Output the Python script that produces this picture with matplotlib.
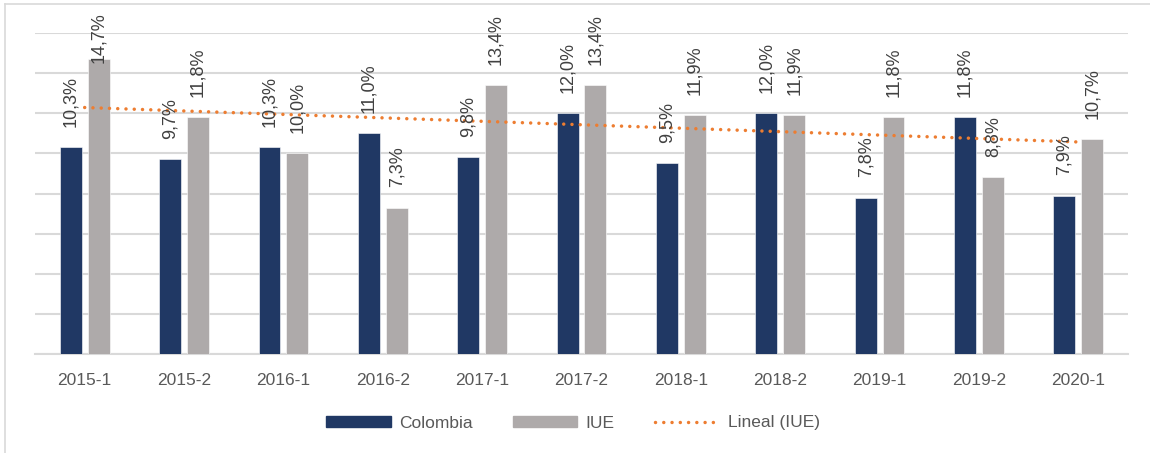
import numpy as np
import matplotlib
matplotlib.use("Agg")
import matplotlib.pyplot as plt
from matplotlib.lines import Line2D

categories = ["2015-1", "2015-2", "2016-1", "2016-2", "2017-1", "2017-2",
              "2018-1", "2018-2", "2019-1", "2019-2", "2020-1"]
colombia = [10.3, 9.7, 10.3, 11.0, 9.8, 12.0, 9.5, 12.0, 7.8, 11.8, 7.9]
iue = [14.7, 11.8, 10.0, 7.3, 13.4, 13.4, 11.9, 11.9, 11.8, 8.8, 10.7]

C_COL = "#203864"
C_IUE = "#aeaaaa"
C_TREND = "#ed7d31"
C_GRID = "#d9d9d9"

plt.rcParams['font.family'] = ['Liberation Sans', 'DejaVu Sans']

fig = plt.figure(figsize=(11.5, 4.53), dpi=100)
ax = fig.add_axes([35/1150, 99/453, (1128-35)/1150, (354-33)/453])

x = np.arange(len(categories))
w = 0.22
off = 0.14
ax.bar(x - off, colombia, w, color=C_COL, edgecolor="white", linewidth=0.4, zorder=3, label="Colombia")
ax.bar(x + off, iue, w, color=C_IUE, edgecolor="white", linewidth=0.4, zorder=3, label="IUE")

# linear trend of IUE
coef = np.polyfit(x, iue, 1)
trend = np.polyval(coef, x)
dot_style = (0, (0.01, 2.37))
ax.plot(x, trend, color=C_TREND, linewidth=2.5, linestyle=dot_style,
        dash_capstyle='round', zorder=4)

ax.set_xlim(-0.5, len(categories) - 0.5)
ax.set_ylim(0, 16)
ax.set_yticks(np.arange(0, 17, 2))
ax.yaxis.grid(True, color=C_GRID, linewidth=1.5, zorder=0)
ax.set_axisbelow(True)
ax.tick_params(axis='y', left=False, labelleft=False)
ax.tick_params(axis='x', bottom=False, pad=10, labelsize=12.5, labelcolor="#595959")
ax.set_xticks(x)
ax.set_xticklabels(categories)
for s in ['top', 'right', 'left']:
    ax.spines[s].set_visible(False)
ax.spines['bottom'].set_color(C_GRID)
ax.spines['bottom'].set_linewidth(1.5)

def fmt(v):
    return f"{v:.1f}".replace(".", ",") + "%"

top_limit = 17.05
lab_len = 2.55
for xi, vc, vi in zip(x, colombia, iue):
    for xp, v in ((xi - off, vc), (xi + off, vi)):
        yl = min(v + 1.0, top_limit - lab_len)
        ax.text(xp, yl, fmt(v), rotation=90, ha='center', va='bottom',
                fontsize=13, color="#404040", clip_on=False, zorder=5)

handles = [
    plt.Rectangle((0, 0), 1, 1, color=C_COL),
    plt.Rectangle((0, 0), 1, 1, color=C_IUE),
    Line2D([0], [0], color=C_TREND, linewidth=2.5, linestyle=dot_style, dash_capstyle='round'),
]
leg = fig.legend(handles, ["Colombia", "IUE", "Lineal (IUE)"], loc='center',
                 bbox_to_anchor=(573/1150, 1 - 423/453), ncol=3, frameon=False,
                 fontsize=12.5, handlelength=3.7, handleheight=0.55,
                 columnspacing=2.3, handletextpad=0.5)
for t in leg.get_texts():
    t.set_color("#595959")

# outer chart frame (top and left visible)
fig.add_artist(Line2D([5/1150, 5/1150], [0, 1 - 4/453], transform=fig.transFigure,
                      color=C_GRID, linewidth=1.2))
fig.add_artist(Line2D([5/1150, 1], [1 - 4/453, 1 - 4/453], transform=fig.transFigure,
                      color=C_GRID, linewidth=1.2))

fig.savefig("out.png", dpi=100)
